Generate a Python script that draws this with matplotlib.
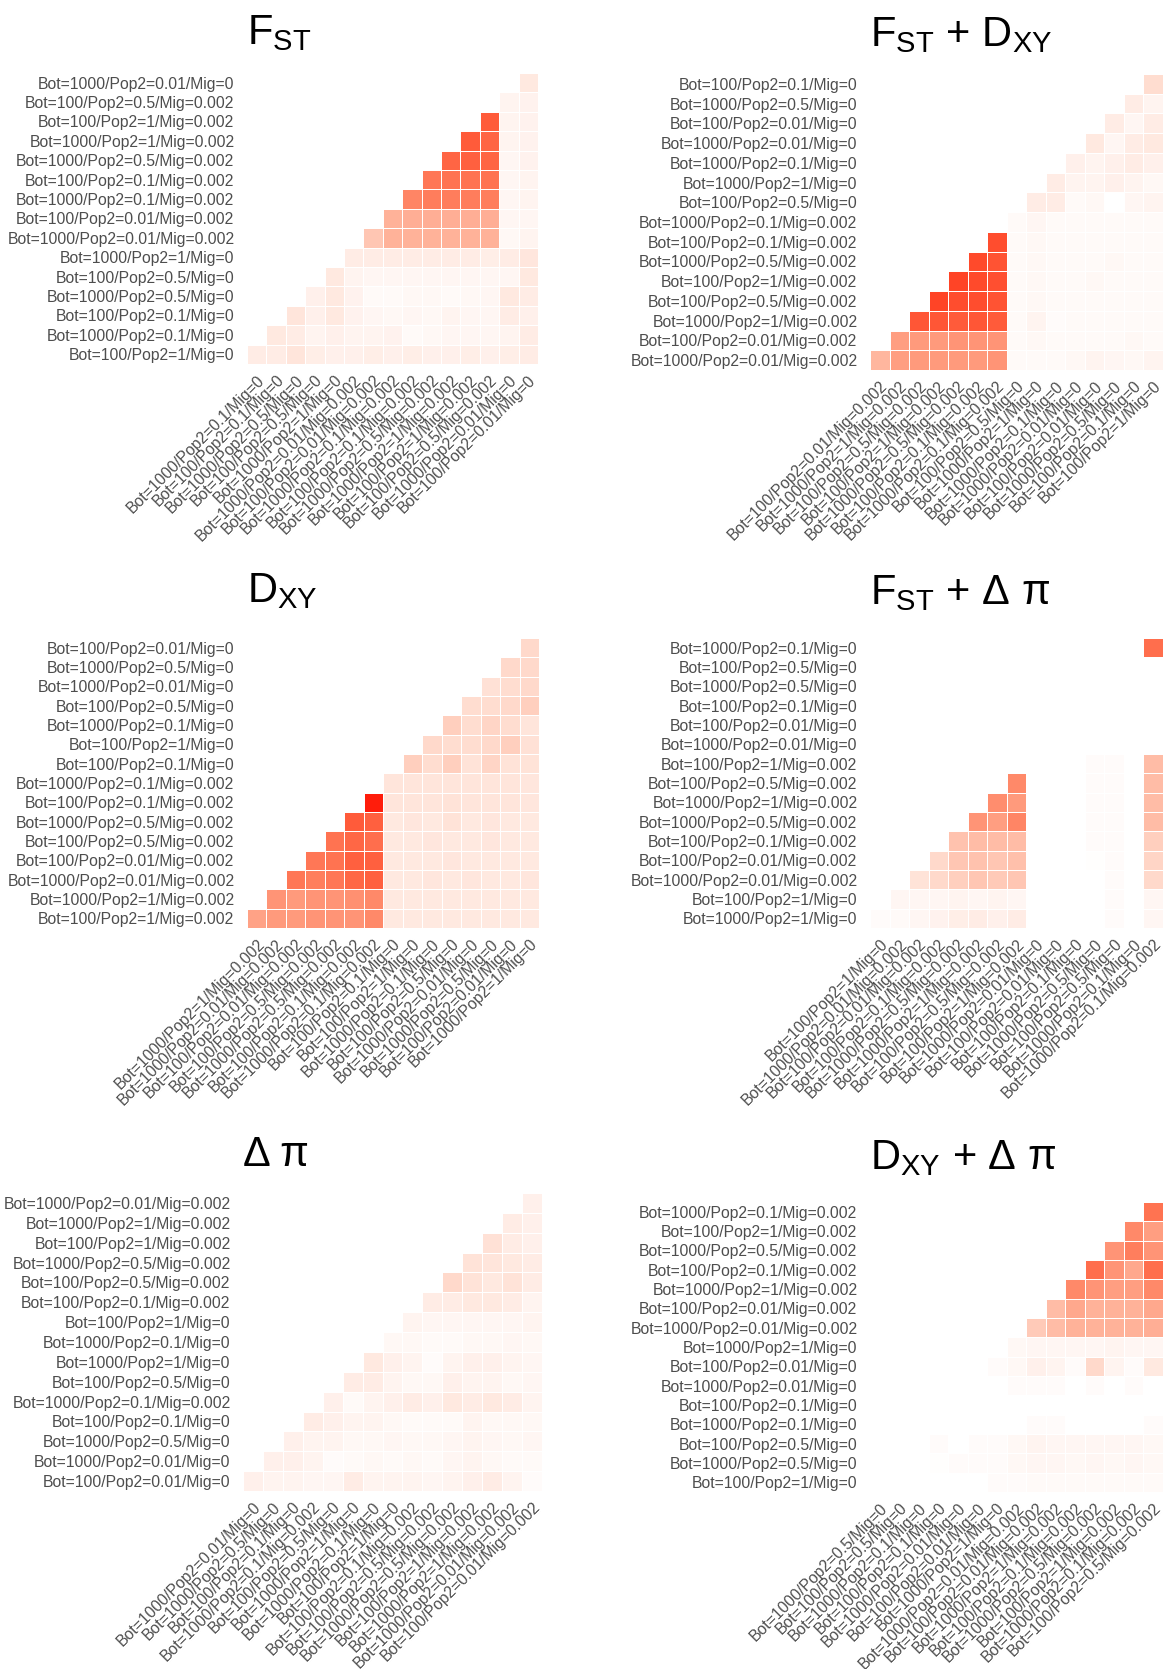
import numpy as np
import matplotlib
matplotlib.use("Agg")
import matplotlib.pyplot as plt
from matplotlib.colors import ListedColormap

plt.rcParams["font.family"] = ["Liberation Sans", "DejaVu Sans"]

# ---------------------------------------------------------------------------
# Scenario orderings (16 per panel): rows use items 0..14, columns items 1..15
# ---------------------------------------------------------------------------
fst_order = [
    "Bot=100/Pop2=1/Mig=0", "Bot=1000/Pop2=0.1/Mig=0", "Bot=100/Pop2=0.1/Mig=0",
    "Bot=1000/Pop2=0.5/Mig=0", "Bot=100/Pop2=0.5/Mig=0", "Bot=1000/Pop2=1/Mig=0",
    "Bot=1000/Pop2=0.01/Mig=0.002", "Bot=100/Pop2=0.01/Mig=0.002",
    "Bot=1000/Pop2=0.1/Mig=0.002", "Bot=100/Pop2=0.1/Mig=0.002",
    "Bot=1000/Pop2=0.5/Mig=0.002", "Bot=1000/Pop2=1/Mig=0.002",
    "Bot=100/Pop2=1/Mig=0.002", "Bot=100/Pop2=0.5/Mig=0.002",
    "Bot=1000/Pop2=0.01/Mig=0", "Bot=100/Pop2=0.01/Mig=0",
]
fst_dxy_order = [
    "Bot=1000/Pop2=0.01/Mig=0.002", "Bot=100/Pop2=0.01/Mig=0.002",
    "Bot=1000/Pop2=1/Mig=0.002", "Bot=100/Pop2=0.5/Mig=0.002",
    "Bot=100/Pop2=1/Mig=0.002", "Bot=1000/Pop2=0.5/Mig=0.002",
    "Bot=100/Pop2=0.1/Mig=0.002", "Bot=1000/Pop2=0.1/Mig=0.002",
    "Bot=100/Pop2=0.5/Mig=0", "Bot=1000/Pop2=1/Mig=0", "Bot=1000/Pop2=0.1/Mig=0",
    "Bot=1000/Pop2=0.01/Mig=0", "Bot=100/Pop2=0.01/Mig=0", "Bot=1000/Pop2=0.5/Mig=0",
    "Bot=100/Pop2=0.1/Mig=0", "Bot=100/Pop2=1/Mig=0",
]
dxy_order = [
    "Bot=100/Pop2=1/Mig=0.002", "Bot=1000/Pop2=1/Mig=0.002",
    "Bot=1000/Pop2=0.01/Mig=0.002", "Bot=100/Pop2=0.01/Mig=0.002",
    "Bot=100/Pop2=0.5/Mig=0.002", "Bot=1000/Pop2=0.5/Mig=0.002",
    "Bot=100/Pop2=0.1/Mig=0.002", "Bot=1000/Pop2=0.1/Mig=0.002",
    "Bot=100/Pop2=0.1/Mig=0", "Bot=100/Pop2=1/Mig=0", "Bot=1000/Pop2=0.1/Mig=0",
    "Bot=100/Pop2=0.5/Mig=0", "Bot=1000/Pop2=0.01/Mig=0", "Bot=1000/Pop2=0.5/Mig=0",
    "Bot=100/Pop2=0.01/Mig=0", "Bot=1000/Pop2=1/Mig=0",
]
fst_dpi_order = [
    "Bot=1000/Pop2=1/Mig=0", "Bot=100/Pop2=1/Mig=0",
    "Bot=1000/Pop2=0.01/Mig=0.002", "Bot=100/Pop2=0.01/Mig=0.002",
    "Bot=100/Pop2=0.1/Mig=0.002", "Bot=1000/Pop2=0.5/Mig=0.002",
    "Bot=1000/Pop2=1/Mig=0.002", "Bot=100/Pop2=0.5/Mig=0.002",
    "Bot=100/Pop2=1/Mig=0.002", "Bot=1000/Pop2=0.01/Mig=0", "Bot=100/Pop2=0.01/Mig=0",
    "Bot=100/Pop2=0.1/Mig=0", "Bot=1000/Pop2=0.5/Mig=0", "Bot=100/Pop2=0.5/Mig=0",
    "Bot=1000/Pop2=0.1/Mig=0", "Bot=1000/Pop2=0.1/Mig=0.002",
]
dpi_order = [
    "Bot=100/Pop2=0.01/Mig=0", "Bot=1000/Pop2=0.01/Mig=0", "Bot=1000/Pop2=0.5/Mig=0",
    "Bot=100/Pop2=0.1/Mig=0", "Bot=1000/Pop2=0.1/Mig=0.002", "Bot=100/Pop2=0.5/Mig=0",
    "Bot=1000/Pop2=1/Mig=0", "Bot=1000/Pop2=0.1/Mig=0", "Bot=100/Pop2=1/Mig=0",
    "Bot=100/Pop2=0.1/Mig=0.002", "Bot=100/Pop2=0.5/Mig=0.002",
    "Bot=1000/Pop2=0.5/Mig=0.002", "Bot=100/Pop2=1/Mig=0.002",
    "Bot=1000/Pop2=1/Mig=0.002", "Bot=1000/Pop2=0.01/Mig=0.002",
    "Bot=100/Pop2=0.01/Mig=0.002",
]
dxy_dpi_order = [
    "Bot=100/Pop2=1/Mig=0", "Bot=1000/Pop2=0.5/Mig=0", "Bot=100/Pop2=0.5/Mig=0",
    "Bot=1000/Pop2=0.1/Mig=0", "Bot=100/Pop2=0.1/Mig=0", "Bot=1000/Pop2=0.01/Mig=0",
    "Bot=100/Pop2=0.01/Mig=0", "Bot=1000/Pop2=1/Mig=0",
    "Bot=1000/Pop2=0.01/Mig=0.002", "Bot=100/Pop2=0.01/Mig=0.002",
    "Bot=1000/Pop2=1/Mig=0.002", "Bot=100/Pop2=0.1/Mig=0.002",
    "Bot=1000/Pop2=0.5/Mig=0.002", "Bot=100/Pop2=1/Mig=0.002",
    "Bot=1000/Pop2=0.1/Mig=0.002", "Bot=100/Pop2=0.5/Mig=0.002",
]

# ---------------------------------------------------------------------------
# Pairwise values: row i (bottom = 0) holds columns i..14
# ---------------------------------------------------------------------------
fst_values = [
    [0.10, 0.10, 0.14, 0.09, 0.08, 0.08, 0.09, 0.08, 0.09, 0.08, 0.08, 0.09, 0.08, 0.09, 0.10],
    [0.12, 0.10, 0.06, 0.08, 0.06, 0.06, 0.07, 0.03, 0.04, 0.05, 0.05, 0.05, 0.06, 0.10],
    [0.14, 0.08, 0.12, 0.07, 0.05, 0.04, 0.05, 0.04, 0.06, 0.05, 0.05, 0.10, 0.08],
    [0.08, 0.12, 0.07, 0.03, 0.03, 0.04, 0.04, 0.03, 0.04, 0.05, 0.12, 0.10],
    [0.12, 0.06, 0.05, 0.05, 0.05, 0.05, 0.05, 0.05, 0.05, 0.05, 0.12],
    [0.10, 0.10, 0.10, 0.10, 0.10, 0.10, 0.10, 0.09, 0.10, 0.13],
    [0.30, 0.40, 0.40, 0.40, 0.40, 0.40, 0.40, 0.04, 0.06],
    [0.40, 0.42, 0.42, 0.42, 0.42, 0.42, 0.05, 0.05],
    [0.62, 0.66, 0.66, 0.66, 0.65, 0.05, 0.06],
    [0.68, 0.70, 0.70, 0.70, 0.05, 0.06],
    [0.76, 0.78, 0.76, 0.05, 0.07],
    [0.80, 0.76, 0.06, 0.07],
    [0.80, 0.06, 0.07],
    [0.06, 0.07],
    [0.12],
]
fst_dxy_values = [
    [0.38, 0.50, 0.52, 0.52, 0.52, 0.52, 0.55, 0.03, 0.03, 0.03, 0.04, 0.06, 0.05, 0.04, 0.06],
    [0.50, 0.52, 0.52, 0.55, 0.55, 0.55, 0.03, 0.04, 0.03, 0.03, 0.03, 0.03, 0.04, 0.03],
    [0.82, 0.82, 0.80, 0.82, 0.80, 0.03, 0.06, 0.02, 0.03, 0.03, 0.03, 0.03, 0.03],
    [0.88, 0.85, 0.85, 0.83, 0.03, 0.04, 0.03, 0.03, 0.03, 0.03, 0.03, 0.03],
    [0.88, 0.86, 0.84, 0.03, 0.04, 0.03, 0.03, 0.04, 0.03, 0.03, 0.03],
    [0.86, 0.83, 0.03, 0.04, 0.03, 0.03, 0.03, 0.04, 0.03, 0.03],
    [0.85, 0.03, 0.04, 0.03, 0.03, 0.03, 0.03, 0.03, 0.03],
    [0.03, 0.05, 0.03, 0.03, 0.03, 0.03, 0.03, 0.03],
    [0.10, 0.10, 0.03, 0.04, 0.00, 0.05, 0.06],
    [0.10, 0.06, 0.06, 0.08, 0.06, 0.04],
    [0.08, 0.06, 0.08, 0.10, 0.08],
    [0.12, 0.05, 0.10, 0.12],
    [0.10, 0.05, 0.10],
    [0.10, 0.06],
    [0.18],
]
dxy_values = [
    [0.48, 0.52, 0.52, 0.55, 0.55, 0.55, 0.60, 0.12, 0.12, 0.12, 0.12, 0.12, 0.12, 0.12, 0.12],
    [0.55, 0.52, 0.55, 0.55, 0.57, 0.60, 0.12, 0.12, 0.12, 0.12, 0.12, 0.12, 0.12, 0.12],
    [0.68, 0.65, 0.68, 0.75, 0.78, 0.12, 0.12, 0.13, 0.12, 0.13, 0.12, 0.12, 0.13],
    [0.68, 0.70, 0.78, 0.78, 0.12, 0.12, 0.12, 0.13, 0.12, 0.12, 0.12, 0.12],
    [0.70, 0.75, 0.72, 0.12, 0.12, 0.13, 0.12, 0.12, 0.13, 0.12, 0.12],
    [0.80, 0.78, 0.12, 0.13, 0.12, 0.15, 0.12, 0.13, 0.12, 0.12],
    [0.97, 0.14, 0.14, 0.14, 0.15, 0.14, 0.14, 0.14, 0.13],
    [0.14, 0.14, 0.14, 0.14, 0.14, 0.14, 0.14, 0.13],
    [0.25, 0.18, 0.25, 0.15, 0.22, 0.15, 0.15],
    [0.20, 0.18, 0.18, 0.20, 0.25, 0.16],
    [0.25, 0.18, 0.22, 0.18, 0.14],
    [0.18, 0.18, 0.20, 0.25],
    [0.16, 0.18, 0.20],
    [0.20, 0.20],
    [0.20],
]
fst_dpi_values = [
    [0.02, 0.03, 0.05, 0.07, 0.09, 0.10, 0.08, 0.10, 0.00, 0.00, 0.00, 0.00, 0.02, 0.00, 0.05],
    [0.05, 0.05, 0.05, 0.06, 0.05, 0.06, 0.05, 0.00, 0.00, 0.00, 0.00, 0.02, 0.00, 0.05],
    [0.15, 0.20, 0.25, 0.30, 0.28, 0.30, 0.00, 0.00, 0.00, 0.00, 0.02, 0.00, 0.20],
    [0.20, 0.30, 0.32, 0.30, 0.33, 0.00, 0.00, 0.00, 0.01, 0.02, 0.00, 0.22],
    [0.32, 0.35, 0.35, 0.35, 0.00, 0.00, 0.00, 0.02, 0.02, 0.00, 0.25],
    [0.55, 0.50, 0.62, 0.00, 0.00, 0.00, 0.02, 0.02, 0.00, 0.35],
    [0.58, 0.52, 0.00, 0.00, 0.00, 0.02, 0.02, 0.00, 0.35],
    [0.60, 0.00, 0.00, 0.00, 0.02, 0.02, 0.00, 0.35],
    [0.00, 0.00, 0.00, 0.02, 0.02, 0.00, 0.35],
    [0.00, 0.00, 0.00, 0.00, 0.00, 0.00],
    [0.00, 0.00, 0.00, 0.00, 0.00],
    [0.00, 0.00, 0.00, 0.00],
    [0.00, 0.00, 0.00],
    [0.00, 0.00],
    [0.72],
]
dpi_values = [
    [0.08, 0.06, 0.06, 0.05, 0.05, 0.10, 0.06, 0.06, 0.06, 0.05, 0.06, 0.08, 0.10, 0.06, 0.02],
    [0.08, 0.08, 0.06, 0.02, 0.03, 0.04, 0.03, 0.04, 0.03, 0.05, 0.06, 0.04, 0.03, 0.03],
    [0.08, 0.06, 0.06, 0.04, 0.04, 0.05, 0.04, 0.04, 0.05, 0.06, 0.05, 0.04, 0.05],
    [0.10, 0.08, 0.06, 0.06, 0.04, 0.03, 0.03, 0.03, 0.06, 0.04, 0.04, 0.04],
    [0.08, 0.03, 0.06, 0.08, 0.10, 0.08, 0.12, 0.10, 0.12, 0.10, 0.06],
    [0.10, 0.10, 0.06, 0.04, 0.04, 0.08, 0.06, 0.06, 0.04, 0.05],
    [0.12, 0.08, 0.06, 0.02, 0.06, 0.08, 0.08, 0.06, 0.05],
    [0.04, 0.04, 0.03, 0.03, 0.04, 0.04, 0.05, 0.04],
    [0.06, 0.05, 0.05, 0.05, 0.05, 0.05, 0.06],
    [0.10, 0.10, 0.12, 0.12, 0.10, 0.06],
    [0.20, 0.15, 0.12, 0.15, 0.10],
    [0.15, 0.14, 0.12, 0.10],
    [0.16, 0.10, 0.08],
    [0.10, 0.08],
    [0.08],
]
dxy_dpi_values = [
    [0.00, 0.00, 0.00, 0.00, 0.00, 0.00, 0.02, 0.02, 0.03, 0.03, 0.03, 0.03, 0.03, 0.03, 0.03],
    [0.00, 0.00, 0.01, 0.02, 0.02, 0.02, 0.04, 0.05, 0.05, 0.04, 0.05, 0.04, 0.05, 0.04],
    [0.00, 0.02, 0.00, 0.02, 0.02, 0.04, 0.06, 0.05, 0.05, 0.05, 0.05, 0.05, 0.04],
    [0.00, 0.00, 0.00, 0.00, 0.00, 0.02, 0.02, 0.00, 0.00, 0.00, 0.00, 0.02],
    [0.00, 0.00, 0.00, 0.00, 0.00, 0.00, 0.00, 0.00, 0.00, 0.00, 0.00],
    [0.00, 0.00, 0.02, 0.02, 0.02, 0.00, 0.02, 0.00, 0.02, 0.00],
    [0.02, 0.04, 0.08, 0.06, 0.02, 0.20, 0.06, 0.02, 0.12],
    [0.04, 0.05, 0.05, 0.05, 0.05, 0.06, 0.05, 0.05],
    [0.28, 0.35, 0.40, 0.40, 0.40, 0.40, 0.42],
    [0.35, 0.45, 0.40, 0.40, 0.40, 0.45],
    [0.60, 0.55, 0.50, 0.50, 0.60],
    [0.72, 0.55, 0.45, 0.72],
    [0.55, 0.65, 0.55],
    [0.60, 0.50],
    [0.70],
]

titles = [
    r"$\mathregular{F_{ST}}$",
    r"$\mathregular{F_{ST}}$ + $\mathregular{D_{XY}}$",
    r"$\mathregular{D_{XY}}$",
    r"$\mathregular{F_{ST}}$ + Δ π",
    "Δ π",
    r"$\mathregular{D_{XY}}$ + Δ π",
]
orders = [fst_order, fst_dxy_order, dxy_order, fst_dpi_order, dpi_order, dxy_dpi_order]
values = [fst_values, fst_dxy_values, dxy_values, fst_dpi_values, dpi_values, dxy_dpi_values]


# White -> red gradient interpolated in CIE Lab space
def _srgb_to_lab(rgb):
    rgb = np.asarray(rgb, float)
    lin = np.where(rgb <= 0.04045, rgb / 12.92, ((rgb + 0.055) / 1.055) ** 2.4)
    m = np.array([[0.4124, 0.3576, 0.1805],
                  [0.2126, 0.7152, 0.0722],
                  [0.0193, 0.1192, 0.9505]])
    xyz = m @ lin / np.array([0.95047, 1.0, 1.08883])
    f = np.where(xyz > 0.008856, np.cbrt(xyz), 7.787 * xyz + 16 / 116)
    return np.array([116 * f[1] - 16, 500 * (f[0] - f[1]), 200 * (f[1] - f[2])])


def _lab_to_srgb(lab):
    L, a, b = lab
    fy = (L + 16) / 116
    fx = fy + a / 500
    fz = fy - b / 200
    f = np.array([fx, fy, fz])
    xyz = np.where(f ** 3 > 0.008856, f ** 3, (f - 16 / 116) / 7.787)
    xyz = xyz * np.array([0.95047, 1.0, 1.08883])
    m = np.array([[3.2406, -1.5372, -0.4986],
                  [-0.9689, 1.8758, 0.0415],
                  [0.0557, -0.2040, 1.0570]])
    lin = m @ xyz
    rgb = np.where(lin <= 0.0031308, 12.92 * lin, 1.055 * np.clip(lin, 0, None) ** (1 / 2.4) - 0.055)
    return np.clip(rgb, 0, 1)


lab_lo = _srgb_to_lab([1, 1, 1])
lab_hi = _srgb_to_lab([1, 0, 0])
cmap = ListedColormap([_lab_to_srgb(lab_lo + t * (lab_hi - lab_lo)) for t in np.linspace(0, 1, 256)])

W, H = 1165, 1669
fig = plt.figure(figsize=(W / 100, H / 100), dpi=100)
fig.patch.set_facecolor("white")

# panel boxes in pixels: left, top, right, bottom of the tile area; title baseline
boxes = [
    (247, 73, 538, 364, 44),
    (870, 74, 1163, 370, 46),
    (247, 638, 539, 928, 602),
    (870, 638, 1163, 928, 604),
    (243, 1193, 542, 1491, 1166),
    (870, 1202, 1163, 1492, 1169),
]

text_color = "#4d4d4d"
n = 15
for (x0, y0, x1, y1, tb), order, vals, title in zip(boxes, orders, values, titles):
    ax = fig.add_axes([x0 / W, 1 - y1 / H, (x1 - x0) / W, (y1 - y0) / H])
    grid = np.full((n, n), np.nan)
    for i, row in enumerate(vals):
        grid[i, i:i + len(row)] = row
    edges = np.arange(n + 1) - 0.5
    ax.pcolormesh(edges, edges, np.ma.masked_invalid(grid), cmap=cmap, vmin=0, vmax=1,
                  edgecolors="white", linewidth=0.7)
    ax.set_xlim(-0.5, n - 0.5)
    ax.set_ylim(-0.5, n - 0.5)
    ax.set_xticks(range(n))
    ax.set_xticklabels(order[1:], rotation=45, ha="right", va="top",
                       rotation_mode="anchor", fontsize=11.3, color=text_color)
    ax.set_yticks(range(n))
    ax.set_yticklabels(order[:n], fontsize=11.3, color=text_color)
    ax.tick_params(length=0, pad=6)
    ax.tick_params(axis="y", pad=9)
    for s in ax.spines.values():
        s.set_visible(False)
    fig.text(x0 / W, 1 - tb / H, title, ha="left", va="baseline", fontsize=30, color="black")

fig.savefig("out.png", dpi=100, facecolor="white")
